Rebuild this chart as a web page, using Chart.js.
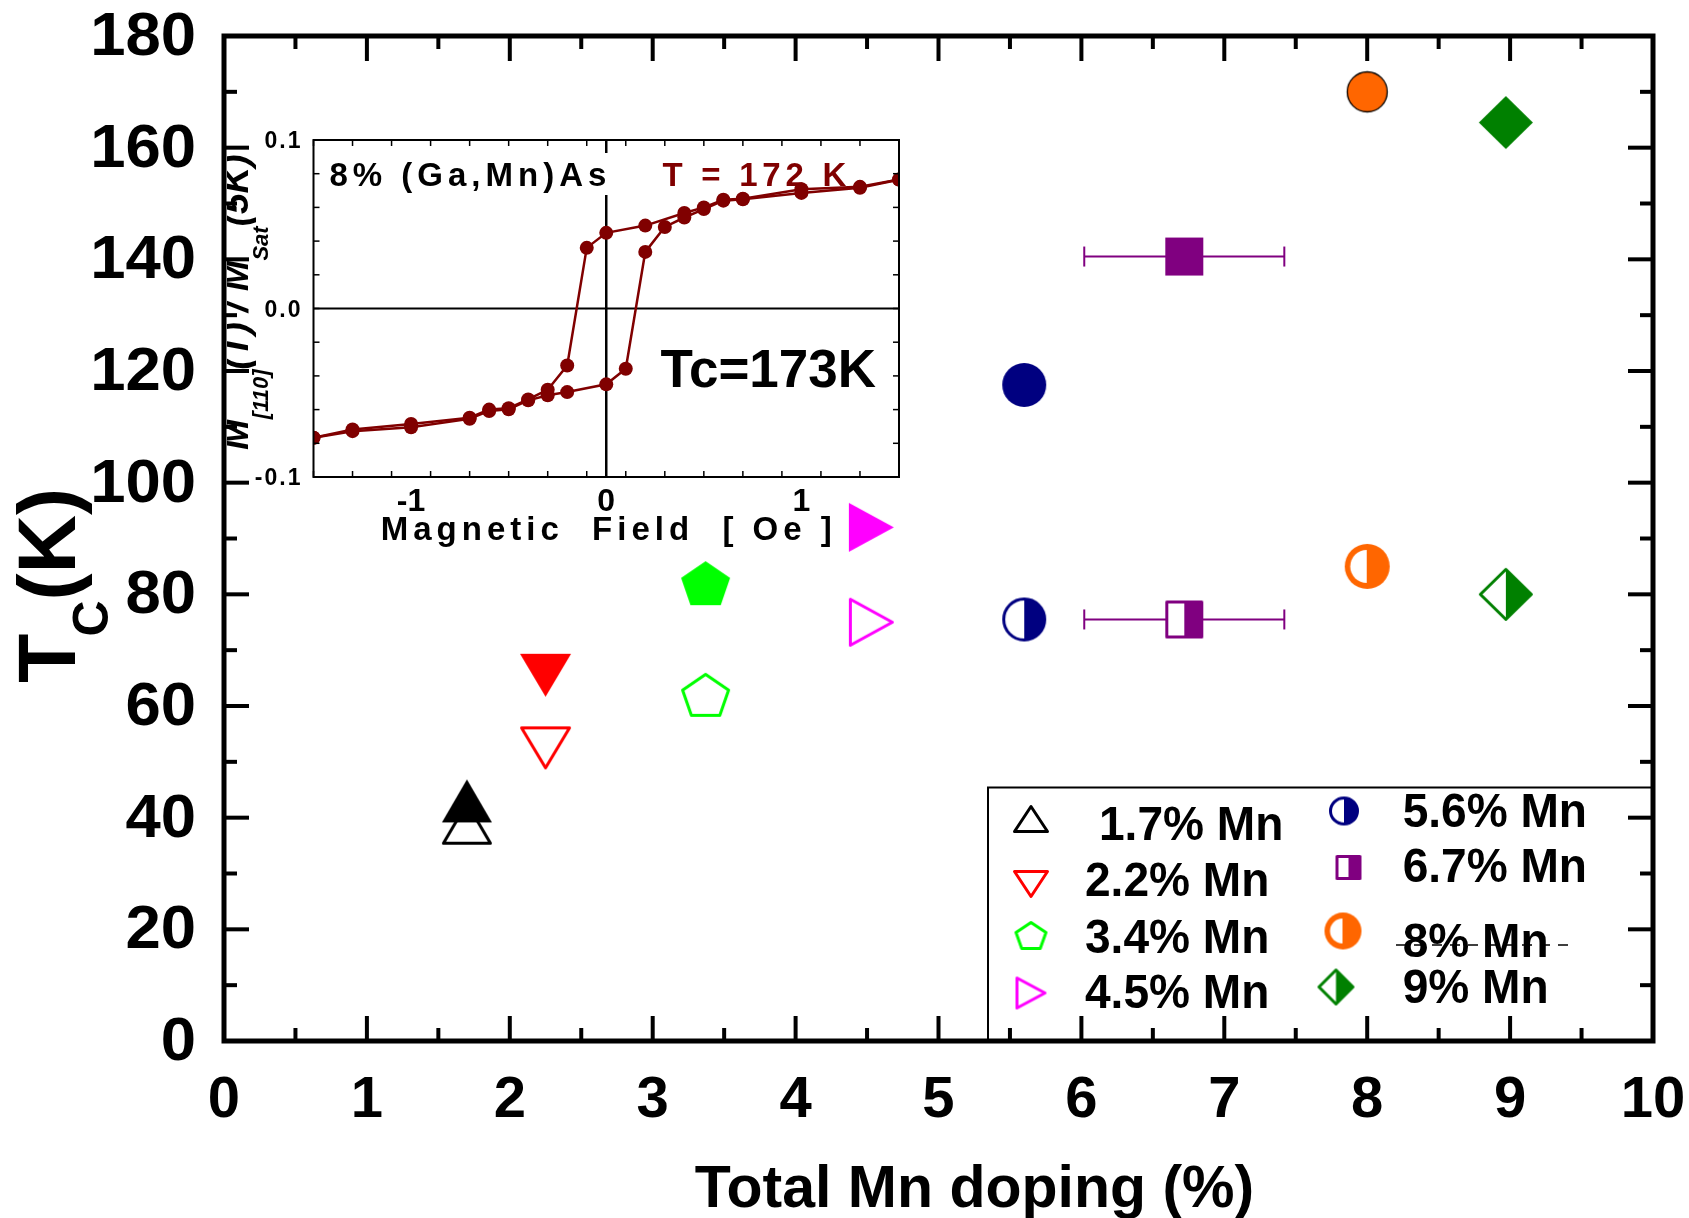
<!DOCTYPE html>
<html>
<head>
<meta charset="utf-8">
<title>Tc vs total Mn doping</title>
<script src="https://cdn.jsdelivr.net/npm/chart.js@4.4.1/dist/chart.umd.min.js"></script>
<style>
  html, body { margin: 0; padding: 0; background: #fff; }
  #wrap { position: relative; width: 1689px; height: 1218px; overflow: hidden; background: #fff; }
  #mainChart { position: absolute; left: 0; top: 0; }
  #insetChart { position: absolute; left: 227px; top: 100px; }
</style>
</head>
<body>
<div id="wrap">
  <canvas id="mainChart" width="1689" height="1218"></canvas>
  <canvas id="insetChart" width="689" height="460"></canvas>
</div>
<script>
// --- Main panel data: Tc against total Mn doping ---
const dopingLabels = ['1.7% Mn', '2.2% Mn', '3.4% Mn', '4.5% Mn', '5.6% Mn', '6.7% Mn', '8% Mn', '9% Mn'];
const dopingX = [1.7, 2.25, 3.37, 4.53, 5.6, 6.72, 8.0, 8.97];
const tcUpper = [43, 65.5, 82, 92, 117.5, 140.5, 170, 164.5];   // filled symbols
const tcLower = [39, 52.5, 62, 75, 75.5, 75.5, 85, 80];         // open / half symbols
const dopingXErr = [0, 0, 0, 0, 0, 0.7, 0, 0];

const mainXTickLabels = [0, 1, 2, 3, 4, 5, 6, 7, 8, 9, 10];
const mainYTickLabels = [0, 20, 40, 60, 80, 100, 120, 140, 160, 180];

// --- Inset data: hysteresis loop of the 8% sample at 172 K ---
const loopFieldDown = [1.5, 1.3, 1.0, 0.7, 0.6, 0.5, 0.4, 0.2, 0.0, -0.1, -0.2, -0.3, -0.4, -0.5, -0.6, -0.7, -1.0, -1.3, -1.5];
const loopMDown = [0.0765, 0.0722, 0.0708, 0.0652, 0.0646, 0.0600, 0.0567, 0.0492, 0.0449, 0.0360, -0.0338, -0.0482, -0.0540, -0.0592, -0.0600, -0.0648, -0.0685, -0.0718, -0.0767];
const loopFieldUp = [-1.5, -1.3, -1.0, -0.7, -0.6, -0.5, -0.4, -0.3, -0.2, 0.0, 0.1, 0.2, 0.3, 0.4, 0.5, 0.6, 0.7, 1.0, 1.3, 1.5];
const loopMUp = [-0.0767, -0.0728, -0.0705, -0.0655, -0.0608, -0.0598, -0.0545, -0.0515, -0.0496, -0.0450, -0.0358, 0.0336, 0.0484, 0.0540, 0.0590, 0.0640, 0.0648, 0.0686, 0.0716, 0.0765];

const insetXTickLabels = [-1, 0, 1];
const insetYTickValues = [-0.1, 0, 0.1];
const insetYTickLabels = ['-0.1', '0.0', '0.1'];

const FONT = '"Liberation Sans", Arial, Helvetica, sans-serif';
const LOOP_COLOR = '#800000';

// Marker styles: [shape, colour, fill mode, width, height]
const upperMarkerSpecs = [
    ['triUp', '#000000', 'full', 50, 43],
    ['triDown', '#ff0000', 'full', 51, 43],
    ['pentagon', '#00ff00', 'full', 49, 44],
    ['triRight', '#ff00ff', 'full', 45, 49],
    ['circle', '#000080', 'full', 44, 44],
    ['square', '#800080', 'full', 38, 38],
    ['circle', '#ff6600', 'edged', 41, 41],
    ['diamond', '#008000', 'full', 54, 53]
];
const lowerMarkerSpecs = [
    ['triUp', '#000000', 'open', 50, 43],
    ['triDown', '#ff0000', 'open', 51, 43],
    ['pentagon', '#00ff00', 'open', 49, 44],
    ['triRight', '#ff00ff', 'open', 45, 49],
    ['circle', '#000080', 'half', 44, 44],
    ['square', '#800080', 'half', 38, 38],
    ['circle', '#ff6600', 'ring', 45, 45],
    ['diamond', '#008000', 'half', 54, 53]
];
const legendMarkerSizes = [[36, 28], [36, 28], [33, 29], [31, 33], [30, 29], [26, 25], [37, 37], [37, 37]];

// --- Marker drawing ---
function shapePath(shape, cx, cy, w, h) {
    const p = new Path2D();
    if (shape === 'triUp') {
        p.moveTo(cx, cy - h / 2); p.lineTo(cx + w / 2, cy + h / 2); p.lineTo(cx - w / 2, cy + h / 2);
    } else if (shape === 'triDown') {
        p.moveTo(cx - w / 2, cy - h / 2); p.lineTo(cx + w / 2, cy - h / 2); p.lineTo(cx, cy + h / 2);
    } else if (shape === 'triRight') {
        p.moveTo(cx - w / 2, cy - h / 2); p.lineTo(cx + w / 2, cy); p.lineTo(cx - w / 2, cy + h / 2);
    } else if (shape === 'diamond') {
        p.moveTo(cx, cy - h / 2); p.lineTo(cx + w / 2, cy); p.lineTo(cx, cy + h / 2); p.lineTo(cx - w / 2, cy);
    } else if (shape === 'square') {
        p.rect(cx - w / 2, cy - h / 2, w, h);
    } else if (shape === 'pentagon') {
        for (let k = 0; k < 5; k++) {
            const a = -Math.PI / 2 + k * 2 * Math.PI / 5;
            const px = cx + Math.cos(a) * (w / 2) / 0.951;
            const py = cy + (Math.sin(a) + 0.0955) * h / 1.809;
            if (k === 0) p.moveTo(px, py); else p.lineTo(px, py);
        }
    } else {
        p.ellipse(cx, cy, w / 2, h / 2, 0, 0, Math.PI * 2);
    }
    p.closePath();
    return p;
}

function makeMarker(spec, w, h) {
    const [shape, color, mode] = spec;
    const lw = 3;
    const c = document.createElement('canvas');
    c.width = Math.ceil(w) + 8;
    c.height = Math.ceil(h) + 8;
    const g = c.getContext('2d');
    const cx = c.width / 2, cy = c.height / 2;
    g.lineJoin = 'round';
    g.lineWidth = lw;
    g.strokeStyle = color;

    if (mode === 'full') {
        g.fillStyle = color;
        g.fill(shapePath(shape, cx, cy, w, h));
    } else if (mode === 'edged') {
        const p = shapePath(shape, cx, cy, w - 1, h - 1);
        g.fillStyle = color; g.fill(p);
        g.lineWidth = 1.3; g.strokeStyle = '#000'; g.stroke(p);
    } else if (mode === 'ring') {
        g.fillStyle = color;
        g.fill(shapePath(shape, cx, cy, w, h));
        g.fillStyle = '#fff';
        g.beginPath();
        g.ellipse(cx - 0.5, cy, w / 2 - 6, h / 2 - 6, 0, Math.PI / 2, Math.PI * 1.5);
        g.closePath();
        g.fill();
    } else {
        const p = shapePath(shape, cx, cy, w - lw, h - lw);
        g.fillStyle = '#fff'; g.fill(p);
        if (mode === 'half') {
            g.save();
            g.beginPath(); g.rect(cx, 0, c.width, c.height); g.clip();
            g.fillStyle = color; g.fill(p);
            g.restore();
        }
        g.stroke(p);
    }
    return c;
}

// --- Text helpers ---
function drawText(ctx, text, x, y, font, align, scaleX) {
    ctx.save();
    ctx.font = font;
    ctx.textAlign = align || 'left';
    ctx.textBaseline = 'alphabetic';
    ctx.translate(x, y);
    ctx.scale(scaleX || 1, 1);
    ctx.fillText(text, 0, 0);
    ctx.restore();
}

function drawSpaced(ctx, text, x, y, spacing, align) {
    const chars = [...text];
    const widths = chars.map(ch => ctx.measureText(ch).width);
    const total = widths.reduce((s, v) => s + v, 0) + spacing * (chars.length - 1);
    let cx = x;
    if (align === 'center') cx = x - total / 2;
    if (align === 'right') cx = x - total;
    ctx.textAlign = 'left';
    chars.forEach((ch, i) => { ctx.fillText(ch, cx, y); cx += widths[i] + spacing; });
    return total;
}

function strokeLine(ctx, x1, y1, x2, y2) {
    ctx.beginPath(); ctx.moveTo(x1, y1); ctx.lineTo(x2, y2); ctx.stroke();
}

document.addEventListener('DOMContentLoaded', () => {
    const upperMarkers = upperMarkerSpecs.map(s => makeMarker(s, s[3], s[4]));
    const lowerMarkers = lowerMarkerSpecs.map(s => makeMarker(s, s[3], s[4]));
    const legendMarkers = lowerMarkerSpecs.map((s, i) => makeMarker(s, legendMarkerSizes[i][0], legendMarkerSizes[i][1]));

    // --- Horizontal error bars for the 6.7% sample ---
    const errorBarPlugin = {
        id: 'errorBars',
        beforeDatasetsDraw(chart) {
            const { ctx, scales: { x, y } } = chart;
            ctx.save();
            ctx.strokeStyle = '#800080';
            ctx.lineWidth = 2;
            [tcUpper, tcLower].forEach(series => {
                dopingX.forEach((dx, i) => {
                    if (!dopingXErr[i]) return;
                    const x1 = x.getPixelForValue(dx - dopingXErr[i]);
                    const x2 = x.getPixelForValue(dx + dopingXErr[i]);
                    const py = y.getPixelForValue(series[i]);
                    strokeLine(ctx, x1, py, x2, py);
                    strokeLine(ctx, x1, py - 10, x1, py + 10);
                    strokeLine(ctx, x2, py - 10, x2, py + 10);
                });
            });
            ctx.restore();
        }
    };

    // --- Legend box in the lower right corner ---
    const legendBoxPlugin = {
        id: 'legendBox',
        afterDatasetsDraw(chart) {
            const { ctx, chartArea: a } = chart;
            const left = 988, top = 787.5;
            ctx.save();
            ctx.fillStyle = '#fff';
            ctx.fillRect(left, top, a.right - left, a.bottom - top);
            ctx.strokeStyle = '#000';
            ctx.lineWidth = 2;
            ctx.strokeRect(left, top, a.right - left, a.bottom - top);

            const markerPos = [[1031, 819], [1031, 884], [1031, 935.5], [1031, 993],
                               [1344, 811], [1348.5, 867.5], [1343, 931], [1336, 987]];
            const labelPos = [[1099, 840], [1085, 896], [1085, 952.7], [1085, 1008],
                              [1402.7, 826.7], [1402.7, 881.7], [1402.7, 956.7], [1402.7, 1003.3]];
            legendMarkers.forEach((m, i) => {
                ctx.drawImage(m, markerPos[i][0] - m.width / 2, markerPos[i][1] - m.height / 2);
            });
            ctx.fillStyle = '#000';
            dopingLabels.forEach((t, i) => {
                drawText(ctx, t, labelPos[i][0], labelPos[i][1], 'bold 49px ' + FONT, 'left', 0.94);
            });
            // stray dashed rule across the 8% entry
            ctx.lineWidth = 1.5;
            ctx.setLineDash([10, 8]);
            strokeLine(ctx, 1396, 945, 1572, 945);
            ctx.restore();
        }
    };

    // --- Frame, inward ticks, tick labels and titles of the main panel ---
    const mainAxesPlugin = {
        id: 'mainAxes',
        afterDraw(chart) {
            const { ctx, chartArea: a, scales: { x, y } } = chart;
            ctx.save();
            ctx.strokeStyle = '#000';
            ctx.lineWidth = 4;
            x.ticks.forEach(t => {
                const px = x.getPixelForValue(t.value);
                const len = Number.isInteger(t.value) ? 25 : 13;
                strokeLine(ctx, px, a.bottom, px, a.bottom - len);
                strokeLine(ctx, px, a.top, px, a.top + len);
            });
            y.ticks.forEach(t => {
                const py = y.getPixelForValue(t.value);
                const len = t.value % 20 === 0 ? 25 : 13;
                strokeLine(ctx, a.left, py, a.left + len, py);
                strokeLine(ctx, a.right, py, a.right - len, py);
            });
            ctx.lineWidth = 5;
            ctx.strokeRect(a.left, a.top, a.right - a.left, a.bottom - a.top);

            ctx.fillStyle = '#000';
            mainYTickLabels.forEach(v => {
                drawText(ctx, String(v), 196, y.getPixelForValue(v) + 19, 'bold 61px ' + FONT, 'right', 1.04);
            });
            mainXTickLabels.forEach(v => {
                drawText(ctx, String(v), x.getPixelForValue(v), 1117, 'bold 58px ' + FONT, 'center');
            });
            drawText(ctx, 'Total Mn doping (%)', (a.left + a.right) / 2 + 36, 1207, 'bold 59px ' + FONT, 'center');

            // rotated T_C(K)
            ctx.translate(75, 683);
            ctx.rotate(-Math.PI / 2);
            ctx.textAlign = 'left';
            ctx.font = 'bold 81px ' + FONT;
            ctx.fillText('T', 0, 0);
            let off = ctx.measureText('T').width - 3;
            ctx.font = 'bold 50px ' + FONT;
            ctx.fillText('C', off, 33);
            off += ctx.measureText('C').width;
            ctx.font = 'bold 81px ' + FONT;
            ctx.fillText('(K)', off, 0);
            ctx.restore();
        }
    };

    const mainCtx = document.getElementById('mainChart').getContext('2d');
    new Chart(mainCtx, {
        type: 'scatter',
        data: {
            datasets: [
                {
                    label: 'filled',
                    data: dopingX.map((v, i) => ({ x: v, y: tcUpper[i] })),
                    pointStyle: upperMarkers,
                    pointRadius: 20
                },
                {
                    label: 'open',
                    data: dopingX.map((v, i) => ({ x: v, y: tcLower[i] })),
                    pointStyle: lowerMarkers,
                    pointRadius: 20
                }
            ]
        },
        options: {
            responsive: false,
            animation: false,
            events: [],
            layout: { padding: { left: 224, right: 36, top: 36, bottom: 177 } },
            scales: {
                x: { type: 'linear', display: false, min: 0, max: 10, ticks: { stepSize: 0.5 } },
                y: { type: 'linear', display: false, min: 0, max: 180, ticks: { stepSize: 10 } }
            },
            plugins: { legend: { display: false }, tooltip: { enabled: false } }
        },
        plugins: [errorBarPlugin, legendBoxPlugin, mainAxesPlugin]
    });

    // --- Inset: frame, zero lines, ticks and texts ---
    const insetAxesPlugin = {
        id: 'insetAxes',
        beforeDatasetsDraw(chart) {
            const { ctx, chartArea: a, scales: { x, y } } = chart;
            ctx.save();
            ctx.fillStyle = '#fff';
            ctx.fillRect(a.left, a.top, a.right - a.left, a.bottom - a.top);
            ctx.strokeStyle = '#000';
            ctx.lineWidth = 2;
            const x0 = x.getPixelForValue(0), y0 = y.getPixelForValue(0);
            strokeLine(ctx, a.left, y0, a.right, y0);
            ctx.lineWidth = 2.5;
            strokeLine(ctx, x0, a.top, x0, a.bottom);

            // sample name on a white patch
            ctx.fillStyle = '#fff';
            ctx.fillRect(a.left + 12, a.top + 13, 288, 42);
            ctx.fillStyle = '#000';
            ctx.font = 'bold 33px ' + FONT;
            drawSpaced(ctx, '8% (Ga,Mn)As', a.left + 16, a.top + 45.5, 5, 'left');
            ctx.restore();
        },
        afterDatasetsDraw(chart) {
            const { ctx, chartArea: a, scales: { x, y } } = chart;
            ctx.save();
            ctx.strokeStyle = '#000';
            ctx.lineWidth = 1.5;
            x.ticks.forEach(t => {
                const px = x.getPixelForValue(t.value);
                const len = Math.abs(t.value - Math.round(t.value)) < 1e-6 ? 8 : 6;
                strokeLine(ctx, px, a.bottom, px, a.bottom - len);
                strokeLine(ctx, px, a.top, px, a.top + len);
            });
            y.ticks.forEach(t => {
                const py = y.getPixelForValue(t.value);
                strokeLine(ctx, a.left, py, a.left + 6, py);
                strokeLine(ctx, a.right, py, a.right - 6, py);
            });
            ctx.lineWidth = 2;
            ctx.strokeRect(a.left, a.top, a.right - a.left, a.bottom - a.top);

            ctx.fillStyle = LOOP_COLOR;
            ctx.font = 'bold 33px ' + FONT;
            drawSpaced(ctx, 'T = 172 K', a.left + 349, a.top + 45.5, 4.75, 'left');

            ctx.fillStyle = '#000';
            drawText(ctx, 'Tc=173K', a.left + 347, a.top + 247, 'bold 53px ' + FONT, 'left');

            ctx.font = 'bold 23px ' + FONT;
            insetYTickValues.forEach((v, i) => {
                drawSpaced(ctx, insetYTickLabels[i], a.left - 13, y.getPixelForValue(v) + 8, 2, 'right');
            });
            insetXTickLabels.forEach(v => {
                drawText(ctx, String(v), x.getPixelForValue(v), a.bottom + 34, 'bold 32px ' + FONT, 'center');
            });
            ctx.font = 'bold 33px ' + FONT;
            drawSpaced(ctx, 'Magnetic  Field  [ Oe ]', (a.left + a.right) / 2, a.bottom + 63, 5, 'center');

            // rotated y title, clipped by the canvas edge
            ctx.translate(21, 350);
            ctx.rotate(-Math.PI / 2);
            const parts = [
                ['M', 37, 0], ['[110]', 22, 20], ['(T) / M', 37, 0], ['Sat', 22, 20], ['(5K)', 37, 0]
            ];
            let off = 0;
            parts.forEach(([t, size, dy]) => {
                ctx.font = 'italic bold ' + size + 'px ' + FONT;
                ctx.fillText(t, off, dy);
                off += ctx.measureText(t).width;
            });
            ctx.restore();
        }
    };

    const insetCtx = document.getElementById('insetChart').getContext('2d');
    const loopStyle = {
        showLine: true,
        borderColor: LOOP_COLOR,
        backgroundColor: LOOP_COLOR,
        borderWidth: 2.5,
        pointRadius: 7,
        pointBorderWidth: 0,
        pointStyle: 'circle',
        tension: 0
    };
    new Chart(insetCtx, {
        type: 'scatter',
        data: {
            datasets: [
                Object.assign({ label: 'down', data: loopFieldDown.map((v, i) => ({ x: v, y: loopMDown[i] })) }, loopStyle),
                Object.assign({ label: 'up', data: loopFieldUp.map((v, i) => ({ x: v, y: loopMUp[i] })) }, loopStyle)
            ]
        },
        options: {
            responsive: false,
            animation: false,
            events: [],
            layout: { padding: { left: 86.5, right: 17, top: 40, bottom: 83 } },
            scales: {
                x: { type: 'linear', display: false, min: -1.5, max: 1.5, ticks: { stepSize: 0.2 } },
                y: { type: 'linear', display: false, min: -0.1, max: 0.1, ticks: { stepSize: 0.02 } }
            },
            plugins: { legend: { display: false }, tooltip: { enabled: false } }
        },
        plugins: [insetAxesPlugin]
    });
});
</script>
</body>
</html>
